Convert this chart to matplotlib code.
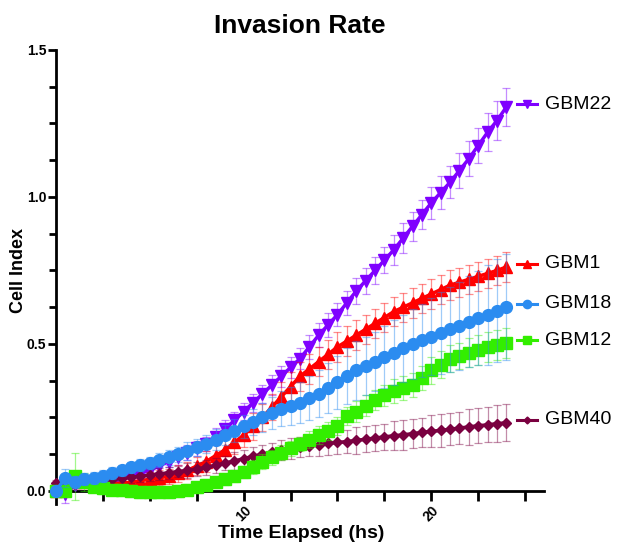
import numpy as np
import matplotlib
matplotlib.use("Agg")
import matplotlib.pyplot as plt
from matplotlib.ticker import FixedLocator, MultipleLocator

plt.rcParams['font.family'] = ['Liberation Sans', 'DejaVu Sans']

# time grid, every 30 min
hours = np.arange(0, 24.01, 0.5)

# mean cell index per line (rows of 7 = 3.5 h each)
gbm22 = [0.00, -0.01, 0.02, 0.03, 0.03, 0.03, 0.03,
         0.04, 0.05, 0.06, 0.07, 0.085, 0.10, 0.115,
         0.13, 0.145, 0.16, 0.185, 0.21, 0.24, 0.27,
         0.30, 0.33, 0.36, 0.39, 0.42, 0.45, 0.49,
         0.53, 0.565, 0.60, 0.64, 0.68, 0.715, 0.75,
         0.785, 0.82, 0.86, 0.90, 0.94, 0.98, 1.015,
         1.05, 1.09, 1.13, 1.175, 1.22, 1.26, 1.306]
gbm22_sd = [0.01, 0.03, 0.02, 0.02, 0.02, 0.02, 0.02,
            0.02, 0.02, 0.02, 0.02, 0.02, 0.02, 0.025,
            0.025, 0.025, 0.025, 0.03, 0.03, 0.03, 0.03,
            0.03, 0.03, 0.035, 0.035, 0.035, 0.035, 0.04,
            0.04, 0.04, 0.04, 0.04, 0.045, 0.045, 0.045,
            0.045, 0.05, 0.05, 0.05, 0.05, 0.055, 0.055,
            0.055, 0.06, 0.06, 0.06, 0.065, 0.065, 0.065]

gbm1 = [0.00, 0.02, 0.03, 0.03, 0.03, 0.028, 0.025,
        0.027, 0.03, 0.035, 0.04, 0.045, 0.05, 0.06,
        0.07, 0.085, 0.10, 0.12, 0.14, 0.165, 0.19,
        0.22, 0.25, 0.285, 0.32, 0.355, 0.39, 0.415,
        0.44, 0.465, 0.49, 0.51, 0.53, 0.55, 0.57,
        0.59, 0.61, 0.625, 0.64, 0.655, 0.67, 0.685,
        0.70, 0.71, 0.72, 0.73, 0.74, 0.75, 0.762]
gbm1_sd = [0.01, 0.02, 0.02, 0.02, 0.02, 0.02, 0.02,
           0.02, 0.02, 0.02, 0.025, 0.025, 0.025, 0.03,
           0.03, 0.03, 0.035, 0.035, 0.04, 0.04, 0.04,
           0.045, 0.045, 0.045, 0.05, 0.05, 0.05, 0.05,
           0.05, 0.05, 0.05, 0.05, 0.05, 0.05, 0.05,
           0.05, 0.05, 0.05, 0.05, 0.05, 0.05, 0.05,
           0.05, 0.05, 0.05, 0.05, 0.05, 0.05, 0.05]

gbm18 = [0.00, 0.045, 0.03, 0.04, 0.045, 0.052, 0.06,
         0.07, 0.08, 0.088, 0.095, 0.105, 0.115, 0.125,
         0.135, 0.148, 0.16, 0.175, 0.19, 0.205, 0.22,
         0.235, 0.25, 0.265, 0.28, 0.29, 0.30, 0.315,
         0.33, 0.35, 0.37, 0.39, 0.41, 0.425, 0.44,
         0.455, 0.47, 0.485, 0.50, 0.512, 0.525, 0.538,
         0.55, 0.562, 0.575, 0.588, 0.60, 0.613, 0.626]
gbm18_sd = [0.01, 0.03, 0.02, 0.02, 0.02, 0.02, 0.02,
            0.02, 0.02, 0.02, 0.02, 0.025, 0.025, 0.025,
            0.03, 0.03, 0.03, 0.035, 0.035, 0.04, 0.04,
            0.045, 0.05, 0.055, 0.06, 0.065, 0.07, 0.075,
            0.08, 0.085, 0.09, 0.095, 0.10, 0.10, 0.10,
            0.105, 0.11, 0.115, 0.12, 0.125, 0.13, 0.14,
            0.145, 0.15, 0.155, 0.16, 0.17, 0.175, 0.18]

gbm12 = [0.00, 0.00, 0.05, 0.03, 0.015, 0.01, 0.005,
         0.002, 0.0, -0.003, -0.005, -0.005, -0.005, 0.0,
         0.005, 0.012, 0.02, 0.03, 0.04, 0.052, 0.065,
         0.082, 0.10, 0.115, 0.13, 0.145, 0.16, 0.175,
         0.19, 0.205, 0.22, 0.255, 0.27, 0.29, 0.31,
         0.325, 0.34, 0.35, 0.36, 0.385, 0.41, 0.43,
         0.45, 0.46, 0.47, 0.48, 0.49, 0.497, 0.503]
gbm12_sd = [0.0, 0.02, 0.08, 0.03, 0.02, 0.02, 0.02,
            0.02, 0.02, 0.02, 0.02, 0.02, 0.02, 0.02,
            0.02, 0.02, 0.02, 0.02, 0.02, 0.02, 0.02,
            0.025, 0.025, 0.025, 0.025, 0.025, 0.025, 0.03,
            0.03, 0.03, 0.03, 0.03, 0.035, 0.035, 0.035,
            0.035, 0.04, 0.04, 0.04, 0.04, 0.045, 0.045,
            0.045, 0.045, 0.05, 0.05, 0.05, 0.05, 0.05]

gbm40 = [0.027, 0.03, 0.03, 0.032, 0.035, 0.037, 0.04,
         0.043, 0.047, 0.05, 0.054, 0.058, 0.062, 0.066,
         0.07, 0.075, 0.08, 0.087, 0.095, 0.102, 0.11,
         0.118, 0.125, 0.132, 0.14, 0.145, 0.15, 0.154,
         0.158, 0.162, 0.165, 0.168, 0.172, 0.176, 0.18,
         0.184, 0.188, 0.191, 0.195, 0.199, 0.203, 0.206,
         0.21, 0.214, 0.218, 0.222, 0.225, 0.229, 0.232]
gbm40_sd = [0.01, 0.02, 0.02, 0.02, 0.02, 0.02, 0.02,
            0.02, 0.02, 0.02, 0.02, 0.02, 0.02, 0.02,
            0.025, 0.025, 0.025, 0.025, 0.025, 0.03, 0.03,
            0.03, 0.03, 0.03, 0.035, 0.035, 0.035, 0.035,
            0.04, 0.04, 0.04, 0.04, 0.045, 0.045, 0.045,
            0.045, 0.05, 0.05, 0.05, 0.05, 0.055, 0.055,
            0.055, 0.055, 0.06, 0.06, 0.06, 0.063, 0.063]

# drawn bottom -> top
series = [
    ("GBM22", gbm22, gbm22_sd, "#7f00ff", "v", 8.5),
    ("GBM1", gbm1, gbm1_sd, "#ff0000", "^", 8.5),
    ("GBM40", gbm40, gbm40_sd, "#7a0040", "D", 5),
    ("GBM12", gbm12, gbm12_sd, "#33ee00", "s", 8),
    ("GBM18", gbm18, gbm18_sd, "#2b8cf0", "o", 8.5),
]

fig = plt.figure(figsize=(6.2, 5.43), dpi=100)
ax = fig.add_axes([0.0903, 0.0958, 0.7870, 0.8122])

for i, (name, y, sd, col, mk, ms) in enumerate(series):
    ax.errorbar(hours, y, yerr=sd, fmt="none", ecolor=col, alpha=0.45,
                elinewidth=0.9, capsize=3, capthick=0.9, zorder=2 + i, clip_on=False)
    ax.plot(hours, y, color=col, lw=2.5, marker=mk, ms=ms, mec=col, mfc=col,
            zorder=3 + i, clip_on=False)
    # label at end of line, Prism style
    ax.plot([24.55, 25.65], [y[-1] + 0.01] * 2, color=col, lw=2.2, clip_on=False)
    ax.plot([25.1], [y[-1] + 0.01], color=col, marker=mk, ms=ms * 0.7, clip_on=False)
    ax.text(26.05, y[-1] + 0.01, name, fontsize=14, va="center", ha="left")

ax.set_xlim(0, 26)
ax.set_ylim(0, 1.5)
for s in ["top", "right"]:
    ax.spines[s].set_visible(False)
for s in ["left", "bottom"]:
    ax.spines[s].set_linewidth(2)
# y axis line runs a bit below the x axis, like Prism
ax.spines["left"].set_bounds(-0.045, 1.5)

ax.yaxis.set_major_locator(FixedLocator([0, 0.5, 1.0, 1.5]))
ax.yaxis.set_minor_locator(MultipleLocator(0.125))
ax.set_yticklabels(["0.0", "0.5", "1.0", "1.5"], fontweight="bold", fontsize=10)
ax.tick_params(axis="y", which="major", length=6, width=2, pad=1)
ax.tick_params(axis="y", which="minor", length=5, width=2)

ax.xaxis.set_major_locator(FixedLocator([10, 20]))
ax.xaxis.set_minor_locator(FixedLocator([2.5, 5, 7.5, 12.5, 15, 17.5, 22.5, 25]))
ax.set_xticklabels(["10", "20"], fontweight="bold", fontsize=10, rotation=45)
ax.tick_params(axis="x", which="both", length=7, width=2, pad=2)

ax.set_title("Invasion Rate", fontsize=19, fontweight="bold", pad=12)
ax.set_ylabel("Cell Index", fontsize=13, fontweight="bold")
ax.yaxis.set_label_coords(-0.06, 0.5)
fig.text(0.485, 0.018, "Time Elapsed (hs)", fontsize=14, fontweight="bold",
         ha="center", va="center")

fig.savefig("out.png", dpi=100)
